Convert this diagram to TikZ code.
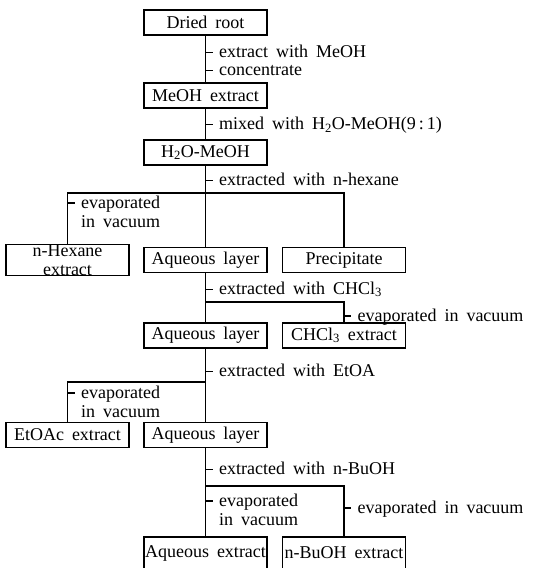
\documentclass[tikz,border=0pt]{standalone}
\usepackage{fontspec}
\setmainfont{Liberation Serif}
\usetikzlibrary{calc}
\newcommand{\flowfont}{\fontsize{18}{19}\selectfont\spaceskip=8pt\relax}
\newcommand{\twoline}[2]{\begin{tabular}[t]{@{}l@{}}#1\\#2\end{tabular}}
\begin{document}
\begin{tikzpicture}[x=1pt,y=-1pt,line width=1.1pt,font=\flowfont,
		box/.style={draw,inner sep=0pt,minimum width=123pt,minimum height=25pt},
		note/.style={anchor=base west,inner sep=0pt,xshift=6pt,yshift=-5pt}]
		\path[use as bounding box,clip] (0,0) rectangle (544,568);
		% boxes
		\node[box] (dried) at (205.5,22.5) {Dried root};
		\node[box] (meoh) at (205.5,95.5) {MeOH extract};
		\node[box] (water) at (205.5,152.5) {H\textsubscript{2}O-MeOH};
		\node[box,align=center] (hexane) at (67.5,260) {n-Hexane\\extract};
		\node[box] (aq1) at (205.5,260) {Aqueous layer};
		\node[box] (precip) at (344,260) {Precipitate};
		\node[box] (aq2) at (205.5,335.5) {Aqueous layer};
		\node[box] (chcl) at (344,335.5) {CHCl\textsubscript{3} extract};
		\node[box] (etoac) at (67.5,435) {EtOAc extract};
		\node[box] (aq3) at (205.5,435) {Aqueous layer};
		\node[box,minimum height=32pt] (aqext) at (205.5,553) {Aqueous extract};
		\node[box,minimum height=32pt] (buoh) at (344,553) {n-BuOH extract};
		% branch points
		\coordinate (j1) at (205.5,193);
		\coordinate (j2) at (205.5,302);
		\coordinate (j3) at (205.5,382);
		\coordinate (j4) at (205.5,486);
		% connectors
		\draw (dried) -- (meoh);
		\draw (meoh) -- (water);
		\draw (water) -- (j1) -- (aq1);
		\draw (hexane.north) |- (j1) -| (precip.north);
		\draw (aq1) -- (aq2);
		\draw (j2) -| (chcl.north);
		\draw (aq2) -- (aq3);
		\draw (etoac.north) |- (j3);
		\draw (aq3) -- (aqext);
		\draw (j4) -| (buoh.north);
		% steps
		\draw ($(dried.south)+(0,17)$) -- ++(7,0) node[note] {extract with MeOH};
		\draw ($(dried.south)+(0,35)$) -- ++(7,0) node[note] {concentrate};
		\draw ($(meoh.south)+(0,16)$) -- ++(7,0) node[note] {mixed with H\textsubscript{2}O-MeOH(9\,:\,1)};
		\draw ($(water.south)+(0,15)$) -- ++(7,0) node[note] {extracted with n-hexane};
		\draw ($(hexane.north |- j1)+(0,10)$) -- ++(7,0) node[note] {\twoline{evaporated}{in vacuum}};
		\draw ($(aq1.south)+(0,16)$) -- ++(7,0) node[note] {extracted with CHCl\textsubscript{3}};
		\draw ($(chcl.north |- j2)+(0,14)$) -- ++(7,0) node[note] {evaporated in vacuum};
		\draw ($(aq2.south)+(0,23)$) -- ++(7,0) node[note] {extracted with EtOA};
		\draw ($(etoac.north |- j3)+(0,11)$) -- ++(7,0) node[note] {\twoline{evaporated}{in vacuum}};
		\draw ($(aq3.south)+(0,21)$) -- ++(7,0) node[note] {extracted with n-BuOH};
		\draw ($(j4)+(0,15)$) -- ++(7,0) node[note] {\twoline{evaporated}{in vacuum}};
		\draw ($(buoh.north |- j4)+(0,22)$) -- ++(7,0) node[note] {evaporated in vacuum};
\end{tikzpicture}
\end{document}
